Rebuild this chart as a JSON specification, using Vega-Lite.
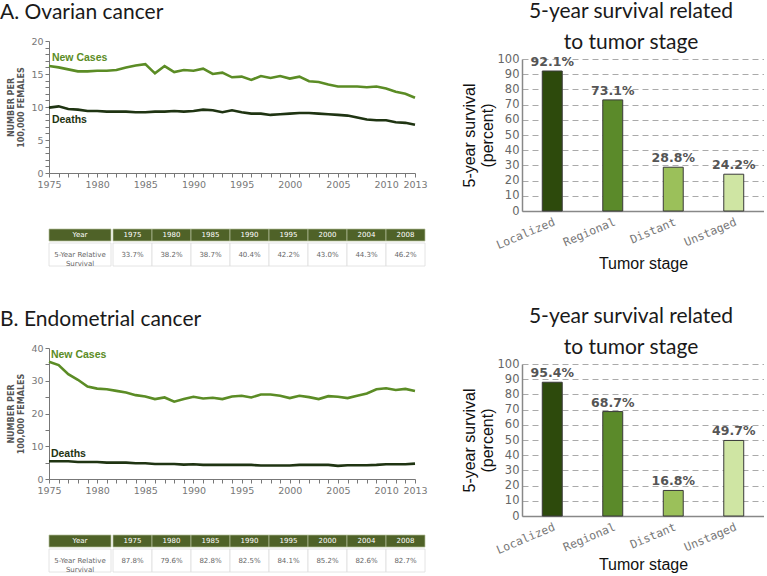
{
  "$schema": "https://vega.github.io/schema/vega-lite/v6.json",
  "padding": {"left": 0, "top": 0, "right": 0, "bottom": 0},
  "background": "white",
  "config": {"view": {"stroke": null}, "concat": {"spacing": 0}},
  "datasets": {
    "ovTrend": [
      {"year":1975,"New Cases":16.2,"Deaths":9.9},{"year":1976,"New Cases":16.0,"Deaths":10.1},{"year":1977,"New Cases":15.7,"Deaths":9.7},{"year":1978,"New Cases":15.4,"Deaths":9.6},{"year":1979,"New Cases":15.4,"Deaths":9.4},
      {"year":1980,"New Cases":15.5,"Deaths":9.4},{"year":1981,"New Cases":15.5,"Deaths":9.3},{"year":1982,"New Cases":15.6,"Deaths":9.3},{"year":1983,"New Cases":16.0,"Deaths":9.3},{"year":1984,"New Cases":16.3,"Deaths":9.2},
      {"year":1985,"New Cases":16.5,"Deaths":9.2},{"year":1986,"New Cases":15.1,"Deaths":9.3},{"year":1987,"New Cases":16.2,"Deaths":9.3},{"year":1988,"New Cases":15.3,"Deaths":9.4},{"year":1989,"New Cases":15.6,"Deaths":9.3},
      {"year":1990,"New Cases":15.5,"Deaths":9.4},{"year":1991,"New Cases":15.8,"Deaths":9.6},{"year":1992,"New Cases":15.0,"Deaths":9.5},{"year":1993,"New Cases":15.2,"Deaths":9.2},{"year":1994,"New Cases":14.5,"Deaths":9.5},
      {"year":1995,"New Cases":14.6,"Deaths":9.2},{"year":1996,"New Cases":14.1,"Deaths":9.0},{"year":1997,"New Cases":14.7,"Deaths":9.0},{"year":1998,"New Cases":14.4,"Deaths":8.8},{"year":1999,"New Cases":14.7,"Deaths":8.9},
      {"year":2000,"New Cases":14.3,"Deaths":9.0},{"year":2001,"New Cases":14.6,"Deaths":9.1},{"year":2002,"New Cases":13.9,"Deaths":9.1},{"year":2003,"New Cases":13.8,"Deaths":9.0},{"year":2004,"New Cases":13.4,"Deaths":8.9},
      {"year":2005,"New Cases":13.1,"Deaths":8.8},{"year":2006,"New Cases":13.1,"Deaths":8.7},{"year":2007,"New Cases":13.1,"Deaths":8.4},{"year":2008,"New Cases":13.0,"Deaths":8.1},{"year":2009,"New Cases":13.1,"Deaths":8.0},
      {"year":2010,"New Cases":12.8,"Deaths":8.0},{"year":2011,"New Cases":12.3,"Deaths":7.7},{"year":2012,"New Cases":12.0,"Deaths":7.6},{"year":2013,"New Cases":11.4,"Deaths":7.3}
    ],
    "enTrend": [
      {"year":1975,"New Cases":35.8,"Deaths":5.4},{"year":1976,"New Cases":34.8,"Deaths":5.4},{"year":1977,"New Cases":32.0,"Deaths":5.4},{"year":1978,"New Cases":30.3,"Deaths":5.2},{"year":1979,"New Cases":28.2,"Deaths":5.2},
      {"year":1980,"New Cases":27.6,"Deaths":5.2},{"year":1981,"New Cases":27.4,"Deaths":5.0},{"year":1982,"New Cases":26.9,"Deaths":5.0},{"year":1983,"New Cases":26.4,"Deaths":5.0},{"year":1984,"New Cases":25.6,"Deaths":4.8},
      {"year":1985,"New Cases":25.2,"Deaths":4.8},{"year":1986,"New Cases":24.4,"Deaths":4.6},{"year":1987,"New Cases":24.9,"Deaths":4.6},{"year":1988,"New Cases":23.6,"Deaths":4.6},{"year":1989,"New Cases":24.4,"Deaths":4.4},
      {"year":1990,"New Cases":25.1,"Deaths":4.5},{"year":1991,"New Cases":24.6,"Deaths":4.3},{"year":1992,"New Cases":24.8,"Deaths":4.3},{"year":1993,"New Cases":24.4,"Deaths":4.3},{"year":1994,"New Cases":25.2,"Deaths":4.3},
      {"year":1995,"New Cases":25.4,"Deaths":4.3},{"year":1996,"New Cases":24.9,"Deaths":4.3},{"year":1997,"New Cases":25.8,"Deaths":4.1},{"year":1998,"New Cases":25.8,"Deaths":4.1},{"year":1999,"New Cases":25.4,"Deaths":4.1},
      {"year":2000,"New Cases":24.7,"Deaths":4.1},{"year":2001,"New Cases":25.4,"Deaths":4.3},{"year":2002,"New Cases":25.0,"Deaths":4.3},{"year":2003,"New Cases":24.4,"Deaths":4.3},{"year":2004,"New Cases":25.3,"Deaths":4.3},
      {"year":2005,"New Cases":25.1,"Deaths":4.0},{"year":2006,"New Cases":24.7,"Deaths":4.2},{"year":2007,"New Cases":25.4,"Deaths":4.2},{"year":2008,"New Cases":26.1,"Deaths":4.2},{"year":2009,"New Cases":27.4,"Deaths":4.3},
      {"year":2010,"New Cases":27.7,"Deaths":4.5},{"year":2011,"New Cases":27.2,"Deaths":4.5},{"year":2012,"New Cases":27.5,"Deaths":4.5},{"year":2013,"New Cases":26.9,"Deaths":4.7}
    ],
    "ovLabels": [{"year":1975.3,"value":17.4,"series":"New Cases"},{"year":1975.3,"value":8.0,"series":"Deaths"}],
    "enLabels": [{"year":1975.2,"value":37.8,"series":"New Cases"},{"year":1975.2,"value":7.5,"series":"Deaths"}],
    "ovTable": [{"year":"1975","surv":"33.7%"},{"year":"1980","surv":"38.2%"},{"year":"1985","surv":"38.7%"},{"year":"1990","surv":"40.4%"},{"year":"1995","surv":"42.2%"},{"year":"2000","surv":"43.0%"},{"year":"2004","surv":"44.3%"},{"year":"2008","surv":"46.2%"}],
    "enTable": [{"year":"1975","surv":"87.8%"},{"year":"1980","surv":"79.6%"},{"year":"1985","surv":"82.8%"},{"year":"1990","surv":"82.5%"},{"year":"1995","surv":"84.1%"},{"year":"2000","surv":"85.2%"},{"year":"2004","surv":"82.6%"},{"year":"2008","surv":"82.7%"}],
    "ovStage": [{"stage":"Localized","value":92.1,"label":"92.1%"},{"stage":"Regional","value":73.1,"label":"73.1%"},{"stage":"Distant","value":28.8,"label":"28.8%"},{"stage":"Unstaged","value":24.2,"label":"24.2%"}],
    "enStage": [{"stage":"Localized","value":88,"label":"95.4%"},{"stage":"Regional","value":68.7,"label":"68.7%"},{"stage":"Distant","value":16.8,"label":"16.8%"},{"stage":"Unstaged","value":49.7,"label":"49.7%"}]
  },
  "spacing": 34,
  "resolve": {"scale": {"color": "independent"}},
  "vconcat": [
    {
      "spacing": 33,
      "resolve": {"scale": {"color": "independent"}},
      "hconcat": [
        {
          "spacing": 39,
          "vconcat": [
            {
              "width": 366, "height": 132,
              "title": {"text": "A. Ovarian cancer", "anchor": "start", "frame": "group", "dx": -49, "fontSize": 21, "font": "Lato", "fontWeight": "normal", "color": "#1a1a1a", "offset": 13},
              "encoding": {
                "x": {"field": "year", "type": "quantitative", "scale": {"domain": [1975, 2013], "nice": false, "zero": false},
                  "axis": {"title": null, "values": [1975,1976,1977,1978,1979,1980,1981,1982,1983,1984,1985,1986,1987,1988,1989,1990,1991,1992,1993,1994,1995,1996,1997,1998,1999,2000,2001,2002,2003,2004,2005,2006,2007,2008,2009,2010,2011,2012,2013],
                    "labelExpr": "datum.value % 5 == 0 || datum.value == 2013 ? datum.label : ''", "format": "d", "grid": false, "domainColor": "#777", "tickColor": "#777", "tickSize": 4, "labelColor": "#777", "labelFont": "DejaVu Sans", "labelFontSize": 9.5, "labelPadding": 2, "labelOverlap": false, "labelFlush": false}},
                "y": {"field": "value", "type": "quantitative", "scale": {"domain": [0, 20], "nice": false},
                  "axis": {"title": ["NUMBER PER", "100,000 FEMALES"], "titleFont": "DejaVu Sans", "titleFontSize": 8, "titleFontWeight": "bold", "titleColor": "#555", "titlePadding": 5,
                    "values": [0,1,2,3,4,5,6,7,8,9,10,11,12,13,14,15,16,17,18,19,20], "labelExpr": "datum.value % 5 == 0 ? datum.label : ''", "grid": false, "domainColor": "#777", "tickColor": "#777", "tickSize": 4, "labelColor": "#777", "labelFont": "DejaVu Sans", "labelFontSize": 9.5, "labelPadding": 2, "labelOverlap": false}},
                "color": {"field": "series", "type": "nominal", "scale": {"domain": ["New Cases", "Deaths"], "range": ["#5b8c25", "#1f3412"]}, "legend": null}
              },
              "layer": [
                {
                  "data": {"name": "ovTrend"},
                  "transform": [{"fold": ["New Cases", "Deaths"], "as": ["series", "value"]}],
                  "mark": {"type": "line", "strokeWidth": 2.6}
                },
                {
                  "data": {"name": "ovLabels"},
                  "mark": {"type": "text", "align": "left", "baseline": "middle", "fontWeight": "bold", "fontSize": 10.5, "font": "Liberation Sans"},
                  "encoding": {"text": {"field": "series"}}
                }
              ]
            },
            {
              "columns": 2, "spacing": 0,
              "concat": [
                {"width": 62, "height": 12, "data": {"values": [{"c": "Year"}]},
                  "layer": [
                    {"mark": {"type": "rect", "fill": "#4f6228", "stroke": "#b5c09b", "strokeWidth": 0.7}, "encoding": {"x": {"field": "c", "type": "nominal", "axis": null, "scale": {"paddingInner": 0, "paddingOuter": 0}}, "y": {"field": "c", "type": "nominal", "axis": null, "scale": {"paddingInner": 0, "paddingOuter": 0}}}},
                    {"mark": {"type": "text", "color": "white", "fontSize": 7, "font": "DejaVu Sans"}, "encoding": {"x": {"field": "c", "type": "nominal", "axis": null}, "y": {"field": "c", "type": "nominal", "axis": null}, "text": {"field": "c"}}}
                  ]},
                {"width": 312, "height": 12, "data": {"name": "ovTable"},
                  "layer": [
                    {"mark": {"type": "rect", "fill": "#4f6228", "stroke": "#b5c09b", "strokeWidth": 0.7}, "encoding": {"x": {"field": "year", "type": "nominal", "sort": null, "axis": null, "scale": {"paddingInner": 0, "paddingOuter": 0}}}},
                    {"mark": {"type": "text", "color": "white", "fontSize": 7, "font": "DejaVu Sans"}, "encoding": {"x": {"field": "year", "type": "nominal", "sort": null, "axis": null}, "text": {"field": "year"}}}
                  ]},
                {"width": 62, "height": 23, "data": {"values": [{"c": "5-Year Relative\nSurvival"}]},
                  "layer": [
                    {"mark": {"type": "rect", "fill": "white", "stroke": "#dddddd", "strokeWidth": 0.8}, "encoding": {"x": {"field": "c", "type": "nominal", "axis": null, "scale": {"paddingInner": 0, "paddingOuter": 0}}, "y": {"field": "c", "type": "nominal", "axis": null, "scale": {"paddingInner": 0, "paddingOuter": 0}}}},
                    {"mark": {"type": "text", "color": "#666", "fontSize": 7, "font": "DejaVu Sans", "lineBreak": "\n", "lineHeight": 9}, "encoding": {"x": {"field": "c", "type": "nominal", "axis": null}, "y": {"field": "c", "type": "nominal", "axis": null}, "text": {"field": "c"}}}
                  ]},
                {"width": 312, "height": 23, "data": {"name": "ovTable"},
                  "layer": [
                    {"mark": {"type": "rect", "fill": "white", "stroke": "#dddddd", "strokeWidth": 0.8}, "encoding": {"x": {"field": "year", "type": "nominal", "sort": null, "axis": null, "scale": {"paddingInner": 0, "paddingOuter": 0}}}},
                    {"mark": {"type": "text", "color": "#666", "fontSize": 7, "font": "DejaVu Sans"}, "encoding": {"x": {"field": "year", "type": "nominal", "sort": null, "axis": null}, "text": {"field": "surv"}}}
                  ]}
              ]
            }
          ]
        },
        {
          "vconcat": [
            {
              "width": 242, "height": 170,
              "title": {"text": ["5-year survival related", "to tumor stage"], "fontSize": 21, "font": "Lato", "fontWeight": "normal", "color": "#1a1a1a", "anchor": "middle", "frame": "group", "dx": -12, "offset": 0, "dy": 11.5, "lineHeight": 31},
              "data": {"name": "ovStage"},
              "encoding": {
                "x": {"field": "stage", "type": "nominal", "sort": null, "scale": {"paddingInner": 0.67, "paddingOuter": 0.335},
                  "axis": {"title": "Tumor stage", "titleFont": "Liberation Sans", "titleFontSize": 16, "titleFontWeight": "normal", "titleColor": "#111", "titlePadding": 5,
                    "labelAngle": -23, "labelAlign": "right", "labelBaseline": "top", "labelFont": "DejaVu Sans Mono", "labelFontSize": 11.5, "labelColor": "#777", "ticks": false, "domainColor": "#888", "domainWidth": 1.5, "labelPadding": 5}},
                "y": {"field": "value", "type": "quantitative", "scale": {"domain": [0, 100], "nice": false, "range": [170, 18]},
                  "axis": {"title": ["5-year survival", "(percent)"], "titleFont": "Liberation Sans", "titleFontSize": 16, "titleFontWeight": "normal", "titleColor": "#111", "titlePadding": 2,
                    "values": [0,10,20,30,40,50,60,70,80,90,100], "grid": true, "gridDash": [6, 4], "gridColor": "#aaa", "ticks": false, "domainColor": "#888", "domainWidth": 1.5, "labelColor": "#666", "labelFont": "DejaVu Sans", "labelFontSize": 11.5, "labelPadding": 3}}
              },
              "layer": [
                {
                  "mark": {"type": "bar", "stroke": "#3a3a3a", "strokeWidth": 1},
                  "encoding": {
                    "color": {"field": "stage", "type": "nominal", "sort": null, "scale": {"domain": ["Localized", "Regional", "Distant", "Unstaged"], "range": ["#2d4a0c", "#5b8a2a", "#9bc05a", "#cfe5a3"]}, "legend": null}
                  }
                },
                {
                  "mark": {"type": "text", "dy": -9, "fontWeight": "bold", "fontSize": 12.5, "font": "DejaVu Sans", "color": "#555"},
                  "encoding": {"text": {"field": "label"}}
                }
              ]
            }
          ]
        }
      ]
    },
    {
      "spacing": 33,
      "resolve": {"scale": {"color": "independent"}},
      "hconcat": [
        {
          "spacing": 39,
          "vconcat": [
            {
              "width": 366, "height": 131,
              "title": {"text": "B. Endometrial cancer", "anchor": "start", "frame": "group", "dx": -49, "fontSize": 21, "font": "Lato", "fontWeight": "normal", "color": "#1a1a1a", "offset": 13},
              "encoding": {
                "x": {"field": "year", "type": "quantitative", "scale": {"domain": [1975, 2013], "nice": false, "zero": false},
                  "axis": {"title": null, "values": [1975,1976,1977,1978,1979,1980,1981,1982,1983,1984,1985,1986,1987,1988,1989,1990,1991,1992,1993,1994,1995,1996,1997,1998,1999,2000,2001,2002,2003,2004,2005,2006,2007,2008,2009,2010,2011,2012,2013],
                    "labelExpr": "datum.value % 5 == 0 || datum.value == 2013 ? datum.label : ''", "format": "d", "grid": false, "domainColor": "#777", "tickColor": "#777", "tickSize": 4, "labelColor": "#777", "labelFont": "DejaVu Sans", "labelFontSize": 9.5, "labelPadding": 2, "labelOverlap": false, "labelFlush": false}},
                "y": {"field": "value", "type": "quantitative", "scale": {"domain": [0, 40], "nice": false},
                  "axis": {"title": ["NUMBER PER", "100,000 FEMALES"], "titleFont": "DejaVu Sans", "titleFontSize": 8, "titleFontWeight": "bold", "titleColor": "#555", "titlePadding": 5,
                    "values": [0,5,10,15,20,25,30,35,40], "labelExpr": "datum.value % 10 == 0 ? datum.label : ''", "grid": false, "domainColor": "#777", "tickColor": "#777", "tickSize": 4, "labelColor": "#777", "labelFont": "DejaVu Sans", "labelFontSize": 9.5, "labelPadding": 2, "labelOverlap": false}},
                "color": {"field": "series", "type": "nominal", "scale": {"domain": ["New Cases", "Deaths"], "range": ["#5b8c25", "#1f3412"]}, "legend": null}
              },
              "layer": [
                {
                  "data": {"name": "enTrend"},
                  "transform": [{"fold": ["New Cases", "Deaths"], "as": ["series", "value"]}],
                  "mark": {"type": "line", "strokeWidth": 2.6}
                },
                {
                  "data": {"name": "enLabels"},
                  "mark": {"type": "text", "align": "left", "baseline": "middle", "fontWeight": "bold", "fontSize": 10.5, "font": "Liberation Sans"},
                  "encoding": {"text": {"field": "series"}}
                }
              ]
            },
            {
              "columns": 2, "spacing": 0,
              "concat": [
                {"width": 62, "height": 12, "data": {"values": [{"c": "Year"}]},
                  "layer": [
                    {"mark": {"type": "rect", "fill": "#4f6228", "stroke": "#b5c09b", "strokeWidth": 0.7}, "encoding": {"x": {"field": "c", "type": "nominal", "axis": null, "scale": {"paddingInner": 0, "paddingOuter": 0}}, "y": {"field": "c", "type": "nominal", "axis": null, "scale": {"paddingInner": 0, "paddingOuter": 0}}}},
                    {"mark": {"type": "text", "color": "white", "fontSize": 7, "font": "DejaVu Sans"}, "encoding": {"x": {"field": "c", "type": "nominal", "axis": null}, "y": {"field": "c", "type": "nominal", "axis": null}, "text": {"field": "c"}}}
                  ]},
                {"width": 312, "height": 12, "data": {"name": "enTable"},
                  "layer": [
                    {"mark": {"type": "rect", "fill": "#4f6228", "stroke": "#b5c09b", "strokeWidth": 0.7}, "encoding": {"x": {"field": "year", "type": "nominal", "sort": null, "axis": null, "scale": {"paddingInner": 0, "paddingOuter": 0}}}},
                    {"mark": {"type": "text", "color": "white", "fontSize": 7, "font": "DejaVu Sans"}, "encoding": {"x": {"field": "year", "type": "nominal", "sort": null, "axis": null}, "text": {"field": "year"}}}
                  ]},
                {"width": 62, "height": 23, "data": {"values": [{"c": "5-Year Relative\nSurvival"}]},
                  "layer": [
                    {"mark": {"type": "rect", "fill": "white", "stroke": "#dddddd", "strokeWidth": 0.8}, "encoding": {"x": {"field": "c", "type": "nominal", "axis": null, "scale": {"paddingInner": 0, "paddingOuter": 0}}, "y": {"field": "c", "type": "nominal", "axis": null, "scale": {"paddingInner": 0, "paddingOuter": 0}}}},
                    {"mark": {"type": "text", "color": "#666", "fontSize": 7, "font": "DejaVu Sans", "lineBreak": "\n", "lineHeight": 9}, "encoding": {"x": {"field": "c", "type": "nominal", "axis": null}, "y": {"field": "c", "type": "nominal", "axis": null}, "text": {"field": "c"}}}
                  ]},
                {"width": 312, "height": 23, "data": {"name": "enTable"},
                  "layer": [
                    {"mark": {"type": "rect", "fill": "white", "stroke": "#dddddd", "strokeWidth": 0.8}, "encoding": {"x": {"field": "year", "type": "nominal", "sort": null, "axis": null, "scale": {"paddingInner": 0, "paddingOuter": 0}}}},
                    {"mark": {"type": "text", "color": "#666", "fontSize": 7, "font": "DejaVu Sans"}, "encoding": {"x": {"field": "year", "type": "nominal", "sort": null, "axis": null}, "text": {"field": "surv"}}}
                  ]}
              ]
            }
          ]
        },
        {
          "vconcat": [
            {
              "width": 242, "height": 168,
              "title": {"text": ["5-year survival related", "to tumor stage"], "fontSize": 21, "font": "Lato", "fontWeight": "normal", "color": "#1a1a1a", "anchor": "middle", "frame": "group", "dx": -12, "offset": 0, "dy": 10, "lineHeight": 31},
              "data": {"name": "enStage"},
              "encoding": {
                "x": {"field": "stage", "type": "nominal", "sort": null, "scale": {"paddingInner": 0.67, "paddingOuter": 0.335},
                  "axis": {"title": "Tumor stage", "titleFont": "Liberation Sans", "titleFontSize": 16, "titleFontWeight": "normal", "titleColor": "#111", "titlePadding": 1,
                    "labelAngle": -23, "labelAlign": "right", "labelBaseline": "top", "labelFont": "DejaVu Sans Mono", "labelFontSize": 11.5, "labelColor": "#777", "ticks": false, "domainColor": "#888", "domainWidth": 1.5, "labelPadding": 5}},
                "y": {"field": "value", "type": "quantitative", "scale": {"domain": [0, 100], "nice": false, "range": [168, 16]},
                  "axis": {"title": ["5-year survival", "(percent)"], "titleFont": "Liberation Sans", "titleFontSize": 16, "titleFontWeight": "normal", "titleColor": "#111", "titlePadding": 2,
                    "values": [0,10,20,30,40,50,60,70,80,90,100], "grid": true, "gridDash": [6, 4], "gridColor": "#aaa", "ticks": false, "domainColor": "#888", "domainWidth": 1.5, "labelColor": "#666", "labelFont": "DejaVu Sans", "labelFontSize": 11.5, "labelPadding": 3}}
              },
              "layer": [
                {
                  "mark": {"type": "bar", "stroke": "#3a3a3a", "strokeWidth": 1},
                  "encoding": {
                    "color": {"field": "stage", "type": "nominal", "sort": null, "scale": {"domain": ["Localized", "Regional", "Distant", "Unstaged"], "range": ["#2d4a0c", "#5b8a2a", "#9bc05a", "#cfe5a3"]}, "legend": null}
                  }
                },
                {
                  "mark": {"type": "text", "dy": -9, "fontWeight": "bold", "fontSize": 12.5, "font": "DejaVu Sans", "color": "#555"},
                  "encoding": {"text": {"field": "label"}}
                }
              ]
            }
          ]
        }
      ]
    }
  ]
}
